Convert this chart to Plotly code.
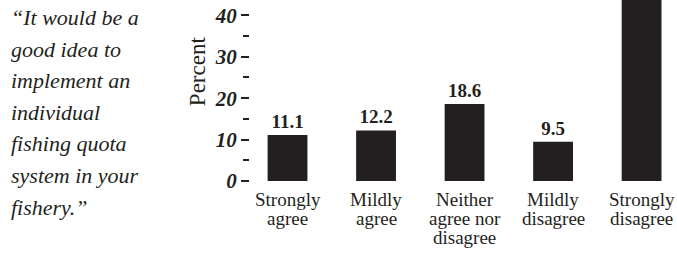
import plotly.graph_objects as go

categories = ["Strongly agree", "Mildly agree", "Neither agree nor disagree", "Mildly disagree", "Strongly disagree"]
category_lines = [["Strongly", "agree"], ["Mildly", "agree"], ["Neither", "agree nor", "disagree"],
                  ["Mildly", "disagree"], ["Strongly", "disagree"]]
percent = [11.1, 12.2, 18.6, 9.5, 48.6]
y_ticks = [0, 10, 20, 30, 40]
y_minor_ticks = [5, 15, 25, 35]
quote_lines = ["\u201cIt would be a", "good idea to", "implement an", "individual",
               "fishing quota", "system in your", "fishery.\u201d"]

BAR = "#231f20"
SERIF = "Liberation Serif"

fig = go.Figure()
fig.add_trace(go.Bar(
    x=categories, y=percent,
    marker=dict(color=BAR, line=dict(width=0)),
    width=0.45,
    text=[f"{v:.1f}" for v in percent],
    textposition="outside",
    textfont=dict(family=SERIF, size=19, color=BAR),
    cliponaxis=True,
    texttemplate="<b>%{text}</b>",
    hoverinfo="skip",
))

fig.update_layout(
    width=677, height=253,
    margin=dict(l=250, r=0, t=0, b=72),
    paper_bgcolor="white", plot_bgcolor="white",
    showlegend=False,
    xaxis=dict(range=[-0.424, 4.40], showticklabels=False, showgrid=False,
               zeroline=False, showline=False, ticks=""),
    yaxis=dict(range=[0, 43.7], tickvals=y_ticks, ticktext=[str(t) for t in y_ticks],
               ticks="outside", ticklen=8, tickwidth=1.5, tickcolor=BAR,
               showgrid=False, zeroline=False, showline=False,
               tickfont=dict(family=SERIF, size=21, color=BAR, weight="bold", style="italic"),
               minor=dict(tickvals=y_minor_ticks, ticks="outside", ticklen=6,
                          tickwidth=1.5, tickcolor=BAR, showgrid=False)),
)

annotations = []
for cat, lines in zip(categories, category_lines):
    for i, ln in enumerate(lines):
        annotations.append(dict(
            x=cat, xref="x", y=0, yref="paper", yanchor="top", yshift=-6 - 19 * i,
            text=ln, showarrow=False, font=dict(family=SERIF, size=19, color=BAR),
        ))

annotations.append(dict(
    x=0, xref="paper", xshift=-53, y=0.607, yref="paper", text="Percent",
    xanchor="center", yanchor="middle",
    textangle=-90, showarrow=False, font=dict(family=SERIF, size=23, color=BAR),
))

for k, ln in enumerate(quote_lines):
    annotations.append(dict(
        x=0, xref="paper", xshift=-241, y=1, yref="paper", yshift=-3 - 31.6 * k,
        xanchor="left", yanchor="top",
        text=ln, showarrow=False,
        font=dict(family=SERIF, size=22, color=BAR, style="italic"),
    ))

fig.update_layout(annotations=annotations)
fig.write_html("out.html", config={"displayModeBar": False},
               post_script="document.body.style.margin='0';")
